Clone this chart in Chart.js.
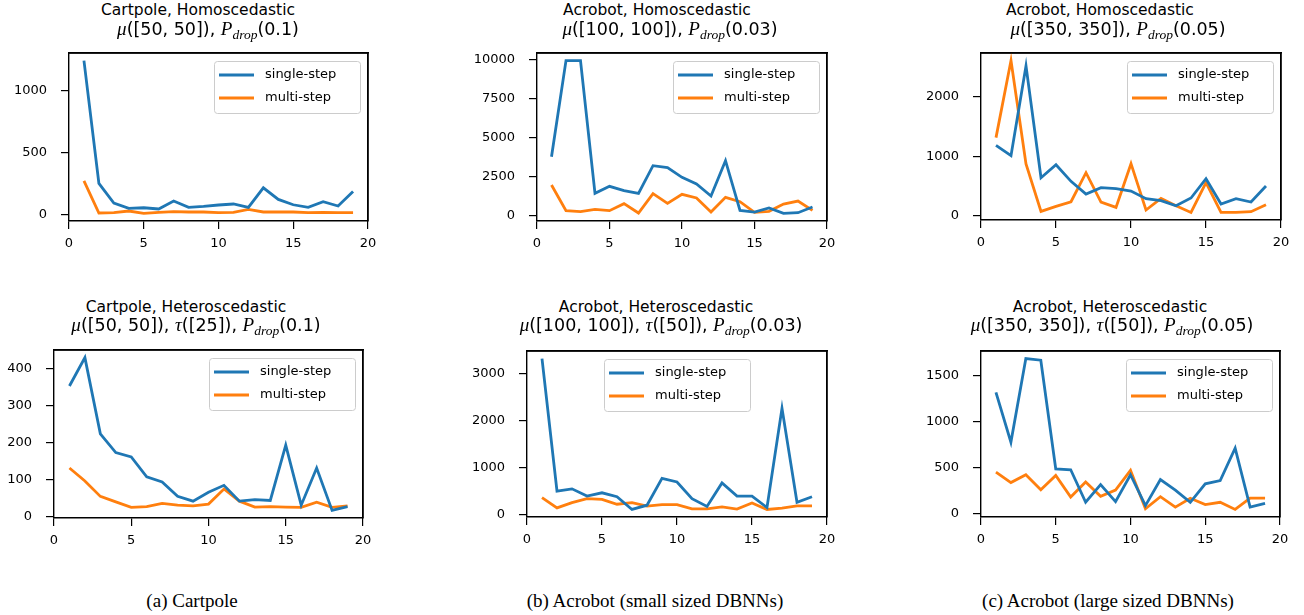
<!DOCTYPE html>
<html>
<head>
<meta charset="utf-8">
<script src="https://cdn.jsdelivr.net/npm/chart.js@4.4.1/dist/chart.umd.min.js"></script>
<style>
  html, body { margin:0; padding:0; background:#fff; }
  body { width:1304px; height:615px; position:relative; overflow:hidden; font-family:"DejaVu Sans", sans-serif; color:#000; }
  canvas { position:absolute; }
  .t1, .t2 { position:absolute; white-space:nowrap; transform:translateX(-50%); }
  .t1 { font-size:15.5px; line-height:18px; }
  .t2 { font-size:17.5px; line-height:20px; }
  .m { font-family:"Liberation Serif", "DejaVu Serif", serif; font-style:italic; font-size:19px; }
  .sub { font-family:"Liberation Serif", "DejaVu Serif", serif; font-style:italic; font-size:13.5px; position:relative; top:4px; }
  .cap { position:absolute; white-space:nowrap; transform:translateX(-50%); font-family:"Liberation Serif", serif; font-size:19px; line-height:22px; }
</style>
</head>
<body>
<script>
// ---------------- data ----------------
const steps = [1,2,3,4,5,6,7,8,9,10,11,12,13,14,15,16,17,18,19];
const xTicks = [0,5,10,15,20];
const seriesLabels = ['single-step','multi-step'];

const cartHomoSingle = [1237,253,96,53,58,48,112,61,69,80,88,61,218,125,82,61,106,72,189];
const cartHomoMulti  = [274,16,19,32,13,21,27,24,24,19,21,45,24,24,24,19,21,19,19];
const cartHomoYTicks = [0,500,1000];

const acroSmallHomoSingle = [3800,9950,9950,1453,1902,1624,1453,3226,3098,2479,2051,1282,3547,363,256,513,171,214,577];
const acroSmallHomoMulti  = [1987,342,278,427,342,790,192,1432,812,1389,1154,256,1197,919,235,299,769,962,363];
const acroSmallHomoYTicks = [0,2500,5000,7500,10000];

const acroLargeHomoSingle = [1184,1011,2514,642,860,581,369,475,458,419,291,257,173,302,626,201,291,235,503];
const acroLargeHomoMulti  = [1313,2603,872,78,162,240,726,235,145,877,101,296,173,61,559,61,61,73,190];
const acroLargeHomoYTicks = [0,1000,2000];

const cartHeteroSingle = [354,431,224,173,161,107,93,54,41,65,84,41,45,43,193,30,131,16,26];
const cartHeteroMulti  = [131,96,54,39,24,26,35,30,28,33,74,41,25,26,25,24,38,24,28];
const cartHeteroYTicks = [0,100,200,300,400];

const acroSmallHeteroSingle = [3312,506,554,402,471,388,118,208,776,700,346,180,679,402,402,159,2259,270,388];
const acroSmallHeteroMulti  = [367,152,263,346,333,229,263,187,222,222,132,132,173,125,256,118,146,194,194];
const acroSmallHeteroYTicks = [0,1000,2000,3000];

const acroLargeHeteroSingle = [1315,773,1682,1664,484,474,121,313,128,420,85,367,253,121,321,356,709,68,110];
const acroLargeHeteroMulti  = [449,335,420,257,413,178,342,185,253,467,50,182,68,164,96,121,43,167,167];
const acroLargeHeteroYTicks = [0,500,1000,1500];

const titles1 = ['Cartpole, Homoscedastic','Acrobot, Homoscedastic','Acrobot, Homoscedastic',
                 'Cartpole, Heteroscedastic','Acrobot, Heteroscedastic','Acrobot, Heteroscedastic'];
const titles2 = [
  '<span class="m">μ</span>([50, 50]), <span class="m">P</span><span class="sub">drop</span>(0.1)',
  '<span class="m">μ</span>([100, 100]), <span class="m">P</span><span class="sub">drop</span>(0.03)',
  '<span class="m">μ</span>([350, 350]), <span class="m">P</span><span class="sub">drop</span>(0.05)',
  '<span class="m">μ</span>([50, 50]), <span class="m">τ</span>([25]), <span class="m">P</span><span class="sub">drop</span>(0.1)',
  '<span class="m">μ</span>([100, 100]), <span class="m">τ</span>([50]), <span class="m">P</span><span class="sub">drop</span>(0.03)',
  '<span class="m">μ</span>([350, 350]), <span class="m">τ</span>([50]), <span class="m">P</span><span class="sub">drop</span>(0.05)'
];
const captions = ['(a) Cartpole','(b) Acrobot (small sized DBNNs)','(c) Acrobot (large sized DBNNs)'];

// ---------------- layout ----------------
const panels = [
  {single:cartHomoSingle, multi:cartHomoMulti, yTicks:cartHomoYTicks, box:[69,53,368,221], loc:'right', t1:198, t2:208, row:0},
  {single:acroSmallHomoSingle, multi:acroSmallHomoMulti, yTicks:acroSmallHomoYTicks, box:[537,53,827,221], loc:'right', t1:657, t2:670, row:0},
  {single:acroLargeHomoSingle, multi:acroLargeHomoMulti, yTicks:acroLargeHomoYTicks, box:[981,53,1281,220], loc:'right', t1:1100, t2:1118, row:0},
  {single:cartHeteroSingle, multi:cartHeteroMulti, yTicks:cartHeteroYTicks, box:[54,350,363,518], loc:'right', t1:186, t2:196, row:1},
  {single:acroSmallHeteroSingle, multi:acroSmallHeteroMulti, yTicks:acroSmallHeteroYTicks, box:[527,351,827,517], loc:'center', t1:656, t2:661, row:1},
  {single:acroLargeHeteroSingle, multi:acroLargeHeteroMulti, yTicks:acroLargeHeteroYTicks, box:[981,351,1280,517], loc:'right', t1:1110, t2:1112, row:1}
];
const titleTops = [[1,19],[298,315]];
const capCenters = [192,655,1108];

Chart.defaults.font.family = '"DejaVu Sans", sans-serif';
Chart.defaults.font.size = 13;
Chart.defaults.color = '#000';

const COLORS = ['#1f77b4','#ff7f0e'];
const PADL = 80, PADT = 30, PADR = 24, PADB = 40;
const TICKLEN = 8, SPINE = 1.4;

const decor = {
  id:'decor',
  afterDraw(chart, args, opts){
    const a = chart.chartArea, ctx = chart.ctx;
    ctx.save();
    ctx.strokeStyle = '#000'; ctx.lineWidth = SPINE;
    ctx.beginPath();
    ctx.moveTo(a.left, a.top); ctx.lineTo(a.right, a.top); ctx.lineTo(a.right, a.bottom);
    ctx.stroke();
    const W = 146, H = 52;
    const x = opts.loc === 'center' ? Math.round((a.left + a.right)/2 - W/2) : Math.round(a.right - 8 - W);
    const y = Math.round(a.top + 8);
    ctx.beginPath();
    if (ctx.roundRect) ctx.roundRect(x+0.5, y+0.5, W, H, 3); else ctx.rect(x+0.5,y+0.5,W,H);
    ctx.fillStyle = 'rgba(255,255,255,0.8)';
    ctx.fill();
    ctx.strokeStyle = '#cccccc'; ctx.lineWidth = 1;
    ctx.stroke();
    ctx.font = '13px "DejaVu Sans", sans-serif';
    ctx.textBaseline = 'middle';
    chart.data.datasets.forEach((ds, i) => {
      const cy = y + 14 + i*23;
      ctx.strokeStyle = ds.borderColor; ctx.lineWidth = 2.8;
      ctx.beginPath(); ctx.moveTo(x+5, cy); ctx.lineTo(x+40, cy); ctx.stroke();
      ctx.fillStyle = '#000';
      ctx.fillText(ds.label, x+51, cy);
    });
    ctx.restore();
  }
};

panels.forEach((p, idx) => {
  const [L,T,R,B] = p.box;
  const cv = document.createElement('canvas');
  const w = (R-L) + PADL + PADR, h = (B-T) + PADT + PADB;
  cv.width = w; cv.height = h;
  cv.style.left = (L-PADL)+'px'; cv.style.top = (T-PADT)+'px';
  cv.style.width = w+'px'; cv.style.height = h+'px';
  document.body.appendChild(cv);

  const all = p.single.concat(p.multi);
  const lo = Math.min(...all), hi = Math.max(...all), m = 0.05*(hi-lo);

  new Chart(cv, {
    type:'line',
    data:{
      datasets:[
        {label:seriesLabels[0], data:steps.map((s,i)=>({x:s,y:p.single[i]})), borderColor:COLORS[0], backgroundColor:COLORS[0], borderWidth:2.8, pointRadius:0, tension:0, fill:false},
        {label:seriesLabels[1], data:steps.map((s,i)=>({x:s,y:p.multi[i]})), borderColor:COLORS[1], backgroundColor:COLORS[1], borderWidth:2.8, pointRadius:0, tension:0, fill:false}
      ]
    },
    options:{
      responsive:false, animation:false, devicePixelRatio:1,
      layout:{padding:{left:0, top:PADT, right:PADR, bottom:0}},
      plugins:{legend:{display:false}, tooltip:{enabled:false}, title:{display:false}, decor:{loc:p.loc}},
      scales:{
        x:{type:'linear', position:'bottom', min:0, max:20,
           afterBuildTicks:s=>{ s.ticks = xTicks.map(v=>({value:v})); },
           afterFit:s=>{ s.height = PADB; },
           grid:{display:true, drawOnChartArea:false, drawTicks:true, tickLength:TICKLEN, color:'#000', lineWidth:1.2},
           border:{display:true, color:'#000', width:SPINE},
           ticks:{padding:7, maxRotation:0, autoSkip:false, color:'#000', font:{size:13}, callback:v=>String(v)}},
        xTop:{type:'linear', position:'top', min:0, max:20, display:true,
           afterFit:s=>{ s.height = 0; },
           grid:{display:false, drawTicks:false},
           border:{display:true, color:'#000', width:SPINE},
           ticks:{display:false}},
        y:{type:'linear', position:'left', min:lo-m, max:hi+m,
           afterBuildTicks:s=>{ s.ticks = p.yTicks.map(v=>({value:v})); },
           afterFit:s=>{ s.width = PADL; },
           grid:{display:true, drawOnChartArea:false, drawTicks:true, tickLength:TICKLEN, color:'#000', lineWidth:1.2},
           border:{display:true, color:'#000', width:SPINE},
           ticks:{padding:14, autoSkip:false, color:'#000', font:{size:13}, callback:v=>String(v)}},
        yRight:{type:'linear', position:'right', min:lo-m, max:hi+m, display:true,
           afterFit:s=>{ s.width = 0; },
           grid:{display:false, drawTicks:false},
           border:{display:true, color:'#000', width:SPINE},
           ticks:{display:false}}
      }
    },
    plugins:[decor]
  });

  const d1 = document.createElement('div'); d1.className='t1';
  d1.textContent = titles1[idx]; d1.style.left = p.t1+'px'; d1.style.top = titleTops[p.row][0]+'px';
  document.body.appendChild(d1);
  const d2 = document.createElement('div'); d2.className='t2';
  d2.innerHTML = titles2[idx]; d2.style.left = p.t2+'px'; d2.style.top = titleTops[p.row][1]+'px';
  document.body.appendChild(d2);
});

captions.forEach((c,i)=>{
  const d = document.createElement('div'); d.className='cap';
  d.textContent = c; d.style.left = capCenters[i]+'px'; d.style.top = '590px';
  document.body.appendChild(d);
});
</script>
</body>
</html>
